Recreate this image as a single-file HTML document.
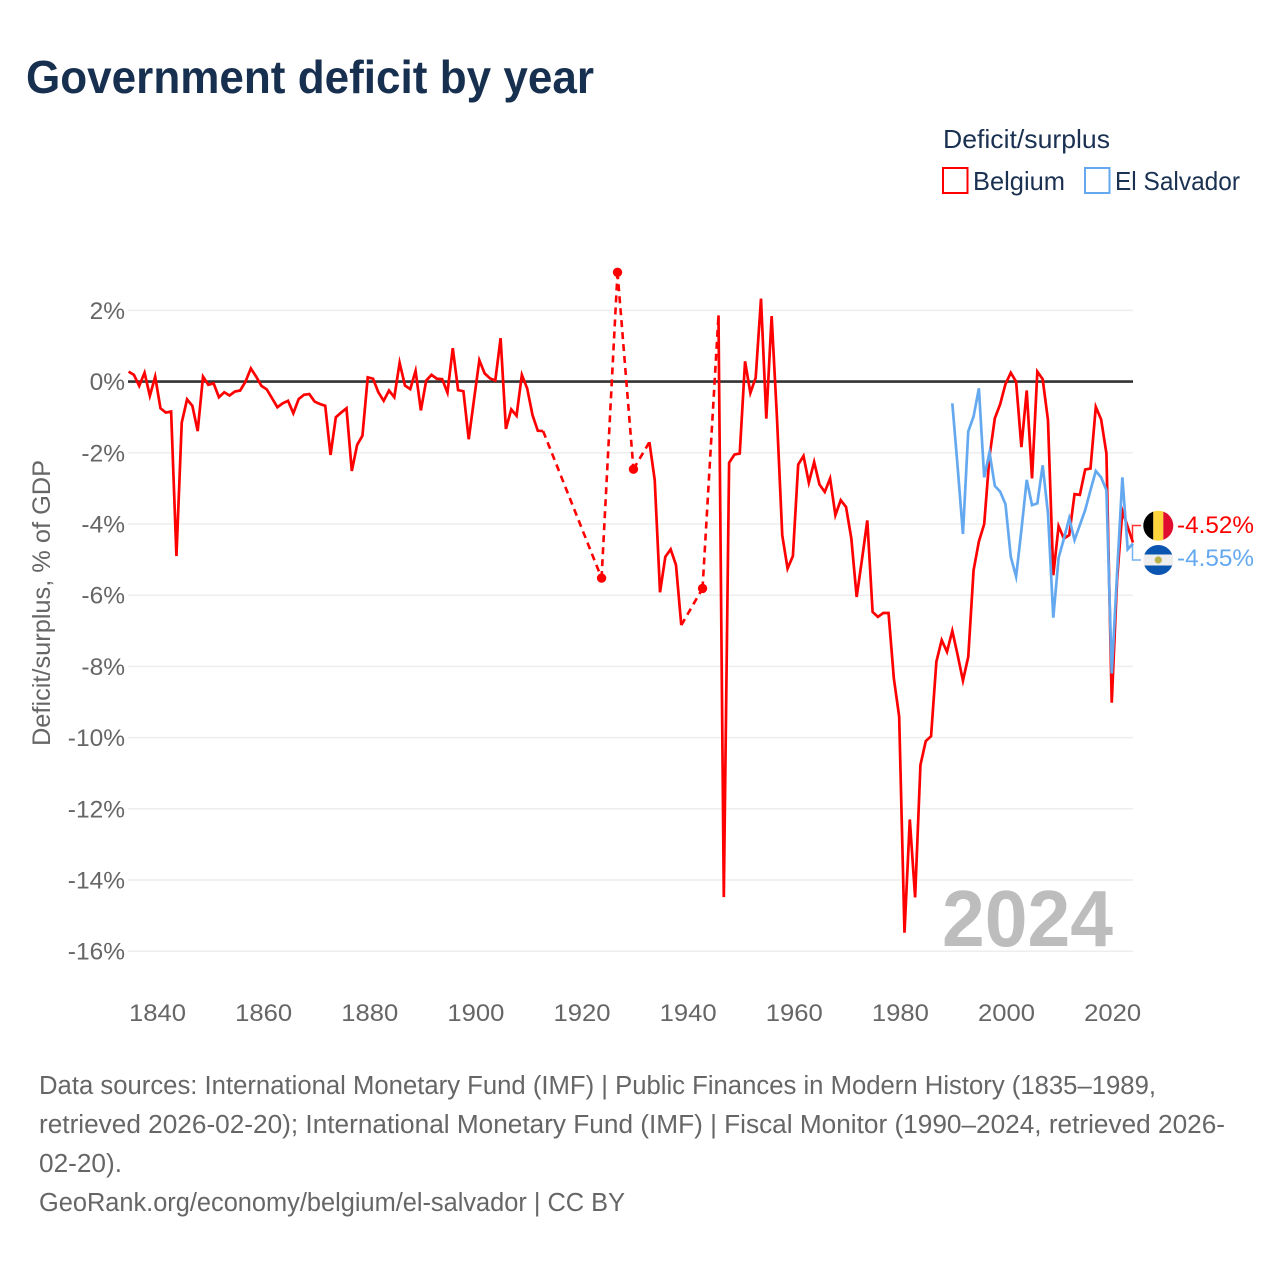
<!DOCTYPE html>
<html lang="en">
<head>
<meta charset="utf-8">
<title>Government deficit by year</title>
<style>
html,body{margin:0;padding:0;background:#fff;}
svg{display:block;font-family:"Liberation Sans",sans-serif;}
</style>
</head>
<body>
<svg id="chart" width="1280" height="1280" viewBox="0 0 1280 1280" xmlns="http://www.w3.org/2000/svg">
  <defs>
    <clipPath id="flag-clip-be"><circle cx="1158.3" cy="525.7" r="15"/></clipPath>
    <clipPath id="flag-clip-sv"><circle cx="1158.3" cy="560" r="15"/></clipPath>
  </defs>
  <rect width="1280" height="1280" fill="#fff"/>
  <text x="26" y="93" font-size="46" font-weight="700" fill="#18304f" textLength="568" lengthAdjust="spacingAndGlyphs">Government deficit by year</text>

  <text x="943" y="148" font-size="26" fill="#1a3152" textLength="167" lengthAdjust="spacingAndGlyphs">Deficit/surplus</text>
  <rect x="943" y="168" width="24.5" height="25" fill="#fff" stroke="#ff0000" stroke-width="2"/>
  <text x="973" y="190" font-size="26" fill="#1a3152" textLength="92" lengthAdjust="spacingAndGlyphs">Belgium</text>
  <rect x="1085" y="168" width="24.5" height="25" fill="#fff" stroke="#64a9ef" stroke-width="2"/>
  <text x="1115" y="190" font-size="26" fill="#1a3152" textLength="125" lengthAdjust="spacingAndGlyphs">El Salvador</text>

  <text transform="translate(50,603) rotate(-90)" text-anchor="middle" font-size="25" fill="#666" textLength="286" lengthAdjust="spacingAndGlyphs">Deficit/surplus, % of GDP</text>

  <g id="grid"></g>
  <g id="y-ticks"></g>
  <g id="x-ticks"></g>

  <text x="942" y="946" font-size="80" font-weight="700" fill="#bdbdbd" textLength="171" lengthAdjust="spacingAndGlyphs">2024</text>

  <g id="series"></g>

  <g clip-path="url(#flag-clip-be)">
    <rect x="1143" y="510" width="10.3" height="32" fill="#000"/>
    <rect x="1153.3" y="510" width="10" height="32" fill="#fdd53a"/>
    <rect x="1163.3" y="510" width="10.5" height="32" fill="#e00d2e"/>
  </g>
  <g clip-path="url(#flag-clip-sv)">
    <rect x="1143" y="544" width="31" height="32" fill="#eeeeee"/>
    <rect x="1143" y="544" width="31" height="10.5" fill="#0a55b0"/>
    <rect x="1143" y="565.5" width="31" height="11" fill="#0a55b0"/>
    <circle cx="1158.3" cy="560" r="3.6" fill="#b9b24a"/>
  </g>
  <g id="end-labels"></g>

  <g font-size="25.5" fill="#666">
    <text x="39" y="1094" textLength="1117" lengthAdjust="spacingAndGlyphs">Data sources: International Monetary Fund (IMF) | Public Finances in Modern History (1835–1989,</text>
    <text x="39" y="1133" textLength="1186" lengthAdjust="spacingAndGlyphs">retrieved 2026-02-20); International Monetary Fund (IMF) | Fiscal Monitor (1990–2024, retrieved 2026-</text>
    <text x="39" y="1172" textLength="83" lengthAdjust="spacingAndGlyphs">02-20).</text>
    <text x="39" y="1211" textLength="586" lengthAdjust="spacingAndGlyphs">GeoRank.org/economy/belgium/el-salvador | CC BY</text>
  </g>
</svg>
<script>
var belgiumStartYear = 1835;
var belgiumValues = [
  0.28,0.19,-0.12,0.25,-0.40,0.14,-0.75,-0.87,-0.84,-4.9,
  -1.15,-0.5,-0.68,-1.39,0.14,-0.09,-0.05,-0.44,-0.3,-0.39,
  -0.28,-0.25,0,0.37,0.14,-0.12,-0.22,-0.47,-0.72,-0.61,
  -0.54,-0.89,-0.49,-0.37,-0.35,-0.56,-0.63,-0.68,-2.06,-1.0,
  -0.87,-0.75,-2.51,-1.78,-1.52,0.12,0.08,-0.3,-0.54,-0.25,
  -0.44,0.53,-0.11,-0.21,0.3,-0.81,0.03,0.19,0.08,0.07,
  -0.31,0.94,-0.24,-0.27,-1.62,-0.5,0.6,0.23,0.09,0.03,
  1.22,-1.33,-0.78,-0.96,0.19,-0.19,-0.94,-1.38,-1.39,null,
  null,null,null,null,null,null,null,null,null,-5.52,
  null,null,3.07,null,null,-2.46,null,null,-1.70,-2.76,
  -5.92,-4.92,-4.71,-5.15,-6.84,null,null,null,-5.81,null,
  null,1.86,-14.48,-2.28,-2.05,-2.02,0.57,-0.32,0.11,2.33,
  -1.04,1.84,-1.0,-4.32,-5.25,-4.9,-2.33,-2.09,-2.84,-2.26,
  -2.89,-3.1,-2.72,-3.75,-3.33,-3.52,-4.41,-6.05,-5.0,-3.9,
  -6.47,-6.61,-6.5,-6.5,-8.34,-9.41,-15.48,-12.3,-14.49,-10.77,
  -10.1,-9.96,-7.87,-7.26,-7.59,-7.0,-7.68,-8.4,-7.73,-5.3,
  -4.49,-4.0,-2.1,-1.03,-0.64,-0.07,0.25,0,-1.84,-0.25,
  -2.72,0.28,0.07,-1.08,-5.44,-4.06,-4.41,-4.31,-3.16,-3.18,
  -2.47,-2.44,-0.71,-1.06,-2.02,-9.02,-5.58,-3.63,-4.08,-4.52
];
var salvadorStartYear = 1990;
var salvadorValues = [
  -0.61,-2.39,-4.28,-1.4,-0.98,-0.19,-2.69,-1.99,-2.93,-3.09,
  -3.44,-4.92,-5.48,-4.17,-2.76,-3.47,-3.42,-2.35,-3.7,-6.63,
  -4.95,-4.41,-3.84,-4.45,-4.03,-3.61,-3.05,-2.51,-2.69,-3.05,
  -8.2,-5.39,-2.69,-4.71,-4.55
];
var yTickValues = [2,0,-2,-4,-6,-8,-10,-12,-14,-16];
var xTickYears = [1840,1860,1880,1900,1920,1940,1960,1980,2000,2020];
var endLabelBelgium = "-4.52%";
var endLabelSalvador = "-4.55%";

var NS = "http://www.w3.org/2000/svg";
function xScale(year){ return 128.6 + (year - 1835) * (1004.4 / 189); }
function yScale(v){ return 381.6 - v * 35.6; }
function xTickPos(year){ return 157.5 + (year - 1840) * 5.306; }
function make(tag, attrs, parent, text){
  var el = document.createElementNS(NS, tag);
  for (var k in attrs) el.setAttribute(k, attrs[k]);
  if (text !== undefined) el.textContent = text;
  parent.appendChild(el);
  return el;
}

var gridG = document.getElementById("grid");
var yTickG = document.getElementById("y-ticks");
var xTickG = document.getElementById("x-ticks");
var seriesG = document.getElementById("series");
var endG = document.getElementById("end-labels");

yTickValues.forEach(function(v){
  if (v === 0) return;
  var line = make("line", {x1:128, x2:1133, y1:yScale(v), y2:yScale(v), stroke:"#eeeeee", "stroke-width":1.5}, gridG);
  
  
});
yTickValues.forEach(function(v){
  var label = make("text", {x:125, y:yScale(v)+8.5, "text-anchor":"end", "font-size":24.5, fill:"#666"}, yTickG, v + "%");
  
  
});
xTickYears.forEach(function(year){
  var label = make("text", {x:xTickPos(year), y:1021, "text-anchor":"middle", "font-size":24.5, fill:"#666", textLength:57, lengthAdjust:"spacingAndGlyphs"}, xTickG, String(year));
  
  
});

function drawSeries(startYear, values, color, key){
  var pts = [];
  values.forEach(function(v, i){
    if (v !== null) pts.push({year:startYear + i, v:v});
  });
  var solid = "", dashed = "";
  pts.forEach(function(p, i){
    var x = xScale(p.year).toFixed(2), y = yScale(p.v).toFixed(2);
    if (i === 0) { solid += "M" + x + " " + y; return; }
    var prev = pts[i-1];
    var px = xScale(prev.year).toFixed(2), py = yScale(prev.v).toFixed(2);
    var gap = p.year - prev.year > 1;
    if (gap) {
      dashed += " M" + px + " " + py + " L" + x + " " + y;
      solid += " M" + x + " " + y;
    } else {
      solid += " L" + x + " " + y;
    }
  });
  var group = make("g", {}, seriesG);
  
  
  if (dashed) {
    var dash = make("path", {d:dashed, fill:"none", stroke:color, "stroke-width":2.6, "stroke-dasharray":"7 5"}, group);
    
    
  }
  var line = make("path", {d:solid, fill:"none", stroke:color, "stroke-width":2.7, "stroke-linejoin":"miter", "stroke-miterlimit":6}, group);
  
  
  values.forEach(function(v, i){
    if (v === null) return;
    var before = i > 0 ? values[i-1] : null;
    var after = i < values.length-1 ? values[i+1] : null;
    if (before === null && after === null) {
      var dot = make("circle", {cx:xScale(startYear+i), cy:yScale(v), r:4.7, fill:color}, group);
      
      
    }
  });
}
var zeroLine = make("line", {x1:128, x2:1133, y1:yScale(0), y2:yScale(0), stroke:"#333333", "stroke-width":2.6}, seriesG);


drawSeries(belgiumStartYear, belgiumValues, "#ff0000", "belgium");
drawSeries(salvadorStartYear, salvadorValues, "#64a9ef", "el-salvador");

var lastBe = belgiumValues[belgiumValues.length-1];
var lastSv = salvadorValues[salvadorValues.length-1];
var connBe = make("path", {d:"M1132.5 "+yScale(lastBe)+" V525.5 H1141", fill:"none", stroke:"#ff0000", "stroke-width":1.5, opacity:0.8}, endG);


var connSv = make("path", {d:"M1132.5 "+yScale(lastSv)+" V560 H1141", fill:"none", stroke:"#64a9ef", "stroke-width":1.5, opacity:0.9}, endG);


var labelBe = make("text", {x:1177, y:533, "font-size":24.5, fill:"#ff0000", textLength:77, lengthAdjust:"spacingAndGlyphs"}, endG, endLabelBelgium);


var labelSv = make("text", {x:1177, y:566, "font-size":24.5, fill:"#64a9ef", textLength:77, lengthAdjust:"spacingAndGlyphs"}, endG, endLabelSalvador);


</script>
</body>
</html>
